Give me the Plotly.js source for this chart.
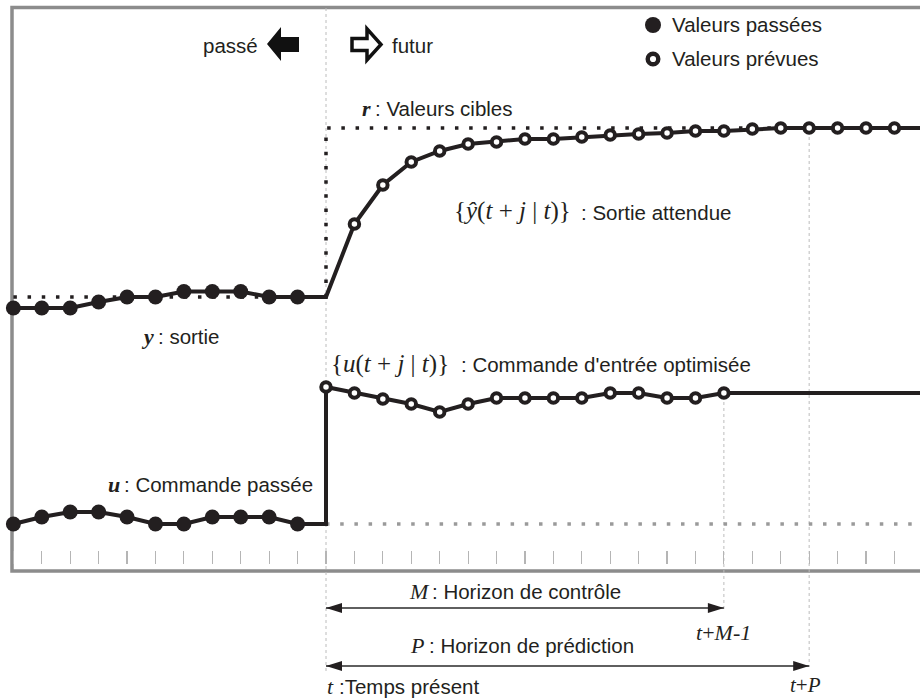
<!DOCTYPE html>
<html><head><meta charset="utf-8">
<script src="https://cdn.plot.ly/plotly-3.0.1.min.js"></script>
<style>html,body{margin:0;padding:0;background:#fff;}#chart{width:920px;height:698px;}</style>
</head><body><div id="chart"></div>
<script>
// ---- data (time steps k relative to present time t, k = 0) ----
const kPast  = [-11,-10,-9,-8,-7,-6,-5,-4,-3,-2,-1];
const kPredY = [1,2,3,4,5,6,7,8,9,10,11,12,13,14,15,16,17,18,19,20,21];
const kPredU = [0,1,2,3,4,5,6,7,8,9,10,11,12,13,14];
const yPast  = [2.63,2.63,2.63,2.69,2.74,2.74,2.795,2.795,2.795,2.74,2.74];
const yNow   = 2.74;
const yPred  = [3.47,3.86,4.09,4.20,4.27,4.29,4.32,4.32,4.34,4.36,4.37,4.38,4.40,4.40,4.42,4.43,4.43,4.43,4.43,4.43,4.43];
const rPast = 2.74, rFuture = 4.43;
const uPast  = [0.47,0.54,0.59,0.59,0.54,0.47,0.47,0.54,0.54,0.54,0.47];
const uPred  = [1.84,1.78,1.72,1.67,1.59,1.67,1.73,1.73,1.73,1.73,1.78,1.78,1.73,1.73,1.78];
const kM1 = 14;   // t+M-1
const kP  = 17;   // t+P
const kEnd = 21;
const legendLabels = ['Valeurs passées', 'Valeurs prévues'];

// ---- styling ----
const INK = '#231f20';
const SANS = 'Liberation Sans, Arial, sans-serif';
const SERIF = 'Liberation Serif, Times New Roman, serif';
const FS = 20.5;
const X_RANGE = [-11.048, 20.90];
const Y_RANGE = [0, 5.63];
const M = {l:12, r:0, t:8, b:127};
const W = 920, H = 698;
const plotW = W - M.l - M.r, plotH = H - M.t - M.b;
const PX = px => (px - M.l) / plotW;
const PY = py => (H - M.b - py) / plotH;
const stepPx = plotW / (X_RANGE[1] - X_RANGE[0]);
const DOT = '3.5px,10.7px';

const uHold = uPast[uPast.length - 1];
const filledMarker = {symbol:'circle', size:15, color:INK, line:{width:0}};
const openMarker = {symbol:'circle', size:9.5, color:'#fff', line:{color:INK, width:4}};

const traces = [
  {x:[kPast[0],0,0,kEnd], y:[rPast,rPast,rFuture,rFuture], mode:'lines',
   line:{color:INK,width:3.5,dash:DOT}, name:'r'},
  {x:[0,kEnd], y:[uHold,uHold], mode:'lines',
   line:{color:'#9a9a9a',width:3.5,dash:DOT}, name:'u held'},
  {x:[...kPast,0,...kPredY], y:[...yPast,yNow,...yPred], mode:'lines',
   line:{color:INK,width:4}, name:'y'},
  {x:[...kPast,0,...kPredU,kEnd], y:[...uPast,uHold,...uPred,uPred[uPred.length-1]], mode:'lines',
   line:{color:INK,width:4}, name:'u'},
  {x:kPast, y:yPast, mode:'markers', name:legendLabels[0], cliponaxis:false, marker:filledMarker},
  {x:kPredY, y:yPred, mode:'markers', name:legendLabels[1], cliponaxis:false, marker:openMarker},
  {x:kPast, y:uPast, mode:'markers', name:legendLabels[0], cliponaxis:false, marker:filledMarker},
  {x:kPredU, y:uPred, mode:'markers', name:legendLabels[1], cliponaxis:false, marker:openMarker}
];

function poly(pts) {
  return 'M' + pts.map(p => PX(p[0]).toFixed(5) + ',' + PY(p[1]).toFixed(5)).join(' L') + ' Z';
}
function head(kTip, py, dir) {
  const b = kTip + dir * 16 / stepPx;
  return `M${kTip},${PY(py)} L${b},${PY(py-5)} L${b},${PY(py+5)} Z`;
}
const guide = (k, pTop, pBot) => ({type:'line', xref:'x', yref:'paper', x0:k, x1:k, y0:PY(pTop), y1:PY(pBot),
  line:{color:'#bcbcbc', width:1, dash:'dot'}, layer:'below'});
const circ = (cx, cy, r, fill, lw) => ({type:'circle', xref:'paper', yref:'paper',
  x0:PX(cx-r), x1:PX(cx+r), y0:PY(cy+r), y1:PY(cy-r), fillcolor:fill, line:{color:INK, width:lw}});

const shapes = [
  {type:'path', xref:'paper', yref:'paper', layer:'below',
   path:`M${PX(960)},${PY(7.5)} L${PX(12)},${PY(7.5)} L${PX(12)},${PY(571)} L${PX(960)},${PY(571)}`,
   line:{color:'#8c8c8c', width:3.5}},
  guide(0, 8, 673), guide(kM1, 396, 609), guide(kP, 131, 667),
  // horizon arrows
  {type:'line', xref:'x', yref:'paper', x0:0, x1:kM1, y0:PY(608), y1:PY(608), line:{color:'#2a2a2a', width:1.6}},
  {type:'path', xref:'x', yref:'paper', path:head(0,608,1), fillcolor:INK, line:{width:0}},
  {type:'path', xref:'x', yref:'paper', path:head(kM1,608,-1), fillcolor:INK, line:{width:0}},
  {type:'line', xref:'x', yref:'paper', x0:0, x1:kP, y0:PY(666), y1:PY(666), line:{color:'#2a2a2a', width:1.6}},
  {type:'path', xref:'x', yref:'paper', path:head(0,666,1), fillcolor:INK, line:{width:0}},
  {type:'path', xref:'x', yref:'paper', path:head(kP,666,-1), fillcolor:INK, line:{width:0}},
  // past / future block arrows
  {type:'path', xref:'paper', yref:'paper',
   path:poly([[267,44],[281,27],[281,37],[299,37],[299,52],[281,52],[281,61]]),
   fillcolor:'#111', line:{width:0}},
  {type:'path', xref:'paper', yref:'paper',
   path:poly([[352,38.5],[367,38.5],[367,28.8],[381,44.5],[367,60],[367,50.5],[352,50.5]]),
   fillcolor:'#fff', line:{color:'#111', width:3.5}},
  // legend symbols
  circ(653, 25, 8, INK, 0),
  circ(653, 59, 5.3, '#fff', 4.4)
];

function lab(text, px, py, extra) {
  return Object.assign({xref:'paper', yref:'paper', x:PX(px), y:PY(py), xanchor:'left', yanchor:'middle',
    showarrow:false, text:text, borderpad:0, font:{family:SANS, size:FS, color:INK}}, extra || {});
}
const serif = (s) => ({font:{family:SERIF, size:s, color:INK}});

const annotations = [
  lab(legendLabels[0], 671, 25),
  lab(legendLabels[1], 671, 59),
  lab('passé', 259, 45, {xanchor:'right'}),
  lab('futur', 391, 45),
  lab('<b><i>r</i></b>', 361, 108, serif(22)),
  lab(': Valeurs cibles', 374, 108),
  lab('{<i>ŷ</i>(<i>t</i> + <i>j</i> | <i>t</i>)}', 453, 211, serif(25)),
  lab(': Sortie attendue', 580, 212),
  lab('<b><i>y</i></b>', 140, 336, serif(22)),
  lab(': sortie', 157, 336),
  lab('{<i>u</i>(<i>t</i> + <i>j</i> | <i>t</i>)}', 330, 364, serif(25)),
  lab(': Commande d\'entrée optimisée', 460, 364),
  lab('<b><i>u</i></b>', 107, 485, serif(22)),
  lab(': Commande passée', 123, 485),
  lab('<i>M</i>', 408, 591, serif(22)),
  lab(': Horizon de contrôle', 431, 591),
  lab('<i>t</i>+<i>M</i>-<i>1</i>', 695, 632, serif(22)),
  lab('<i>P</i>', 409, 645, serif(22)),
  lab(': Horizon de prédiction', 428, 645),
  lab('<i>t</i>', 326, 686, serif(22)),
  lab(':Temps présent', 338, 686),
  lab('<i>t</i>+<i>P</i>', 789, 685, serif(21))
];

const layout = {
  width:W, height:H, margin:Object.assign({pad:0}, M),
  paper_bgcolor:'#fff', plot_bgcolor:'#fff',
  xaxis:{range:X_RANGE, showgrid:false, zeroline:false, showticklabels:false, showline:false,
         ticks:'inside', ticklen:13, tickwidth:1.2, tickcolor:'#b5b5b5', tick0:0, dtick:1,
         anchor:'free', position:7/plotH, fixedrange:true},
  yaxis:{range:Y_RANGE, visible:false, fixedrange:true},
  showlegend:false,
  shapes:shapes, annotations:annotations
};

Plotly.newPlot('chart', traces, layout, {displayModeBar:false, staticPlot:true});
</script></body></html>
